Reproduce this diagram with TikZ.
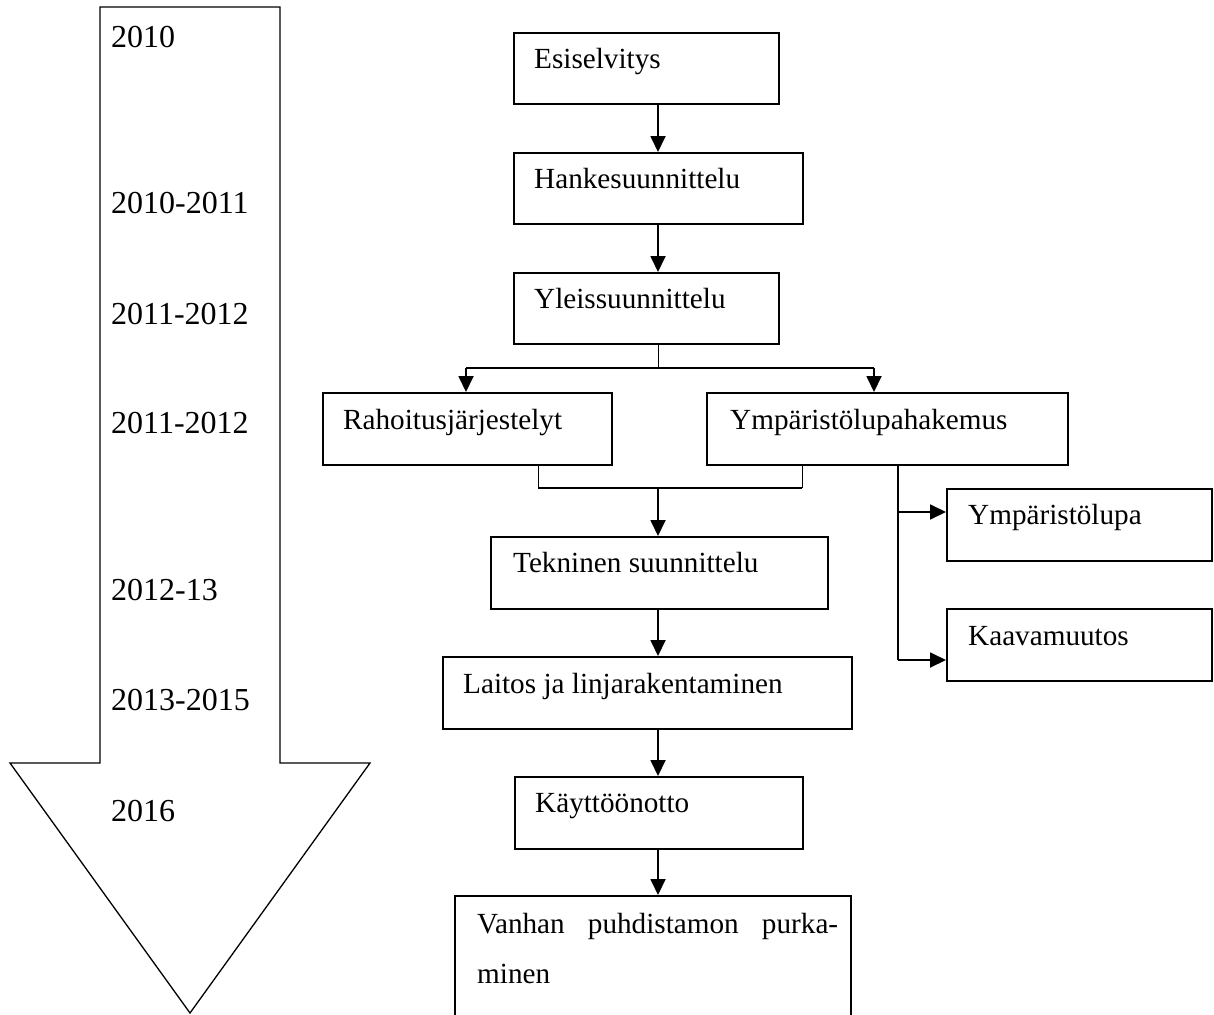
\documentclass[tikz,border=0pt]{standalone}
\usepackage{fontspec}
\setmainfont{Liberation Serif}
\usetikzlibrary{arrows.meta,calc}
\begin{document}
\begin{tikzpicture}[x=1pt,y=-1pt,
  box/.style={draw, line width=1.6pt, inner sep=0pt, anchor=north west},
  lbl/.style={anchor=base west, inner sep=0pt, font=\fontsize{29.2}{35}\selectfont},
  yr/.style={anchor=base west, inner sep=0pt, font=\fontsize{32}{38}\selectfont},
  arr/.style={line width=1.8pt, -{Triangle[length=16pt,width=15pt]}},
  conn/.style={line width=1.8pt},
  stub/.style={line width=1pt}]
\useasboundingbox (0,0) rectangle (1214,1014);

% big timeline arrow
\draw[line width=1.3pt, line join=miter] (100,7) -- (280,7) -- (280,763) -- (370,763) -- (190,1013) -- (10,763) -- (100,763) -- cycle;
\node[yr] (y1) at (111,48) {2010};
\node[yr] (y2) at (111,213) {2010-2011};
\node[yr] (y3) at (111,324) {2011-2012};
\node[yr] (y4) at (111,433) {2011-2012};
\node[yr] (y5) at (111,600) {2012-13};
\node[yr] (y6) at (111,710) {2013-2015};
\node[yr] (y7) at (111,821) {2016};

% boxes
\node[box, minimum width=265pt, minimum height=71pt] (esi) at (513,32) {};
\node[box, minimum width=289pt, minimum height=71pt] (hanke) at (513,152) {};
\node[box, minimum width=265pt, minimum height=71pt] (yleis) at (513,272) {};
\node[box, minimum width=289pt, minimum height=72pt] (rah) at (322,392) {};
\node[box, minimum width=361pt, minimum height=72pt] (ymp) at (706,392) {};
\node[box, minimum width=337pt, minimum height=72pt] (tekn) at (490,536) {};
\node[box, minimum width=409pt, minimum height=72pt] (laitos) at (442,656) {};
\node[box, minimum width=288pt, minimum height=72pt] (kayt) at (514,776) {};
\node[box, minimum width=396pt, minimum height=140pt] (vanh) at (454,895) {};
\node[box, minimum width=265pt, minimum height=72pt] (ylupa) at (946,488) {};
\node[box, minimum width=265pt, minimum height=72pt] (kaava) at (946,608) {};

% labels
\node[lbl] (esiT) at ($(esi.north west)+(21,36.5)$) {Esiselvitys};
\node[lbl] (hankeT) at ($(hanke.north west)+(21,36.5)$) {Hankesuunnittelu};
\node[lbl] (yleisT) at ($(yleis.north west)+(21,36.5)$) {Yleissuunnittelu};
\node[lbl] (rahT) at ($(rah.north west)+(21,37)$) {Rahoitusjärjestelyt};
\node[lbl] (ympT) at ($(ymp.north west)+(24,37)$) {Ympäristölupahakemus};
\node[lbl] (teknT) at ($(tekn.north west)+(23,36.5)$) {Tekninen suunnittelu};
\node[lbl] (laitosT) at ($(laitos.north west)+(21,37)$) {Laitos ja linjarakentaminen};
\node[lbl] (kaytT) at ($(kayt.north west)+(21,36.5)$) {Käyttöönotto};
\node[lbl] (ylupaT) at ($(ylupa.north west)+(22,36.5)$) {Ympäristölupa};
\node[lbl] (kaavaT) at ($(kaava.north west)+(22,37)$) {Kaavamuutos};
\node[lbl] (vanhT1) at ($(vanh.north west)+(23,38)$) {\hbox to 361pt{Vanhan\hfill puhdistamon\hfill purka-}};
\node[lbl] (vanhT2) at ($(vanh.north west)+(23,88)$) {minen};

% connectors
\coordinate (cx) at (658,0);
\draw[arr] (esi.south -| cx) -- (hanke.north -| cx);
\draw[arr] (hanke.south -| cx) -- (yleis.north -| cx);
\coordinate (splitC) at (658,368);
\coordinate (sL) at (466,368);
\coordinate (sR) at (874,368);
\draw[stub] (yleis.south -| cx) -- (splitC);
\draw[conn] (sL) -- (sR);
\draw[arr] (sL) -- (rah.north -| sL);
\draw[arr] (sR) -- (ymp.north -| sR);
\coordinate (mL) at (538,488);
\coordinate (mR) at (802,488);
\coordinate (mC) at (658,488);
\draw[stub] (rah.south -| mL) -- (mL);
\draw[stub] (ymp.south -| mR) -- (mR);
\draw[conn] (mL) -- (mR);
\draw[arr] (mC) -- (tekn.north -| mC);
\draw[arr] (tekn.south -| cx) -- (laitos.north -| cx);
\draw[arr] (laitos.south -| cx) -- (kayt.north -| cx);
\draw[arr] (kayt.south -| cx) -- (vanh.north -| cx);
\coordinate (b1) at (898,512);
\coordinate (b2) at (898,660);
\draw[conn] (ymp.south -| b1) -- (b2);
\draw[arr] (b1) -- (ylupa.west |- b1);
\draw[arr] (b2) -- (kaava.west |- b2);
\end{tikzpicture}
\end{document}
